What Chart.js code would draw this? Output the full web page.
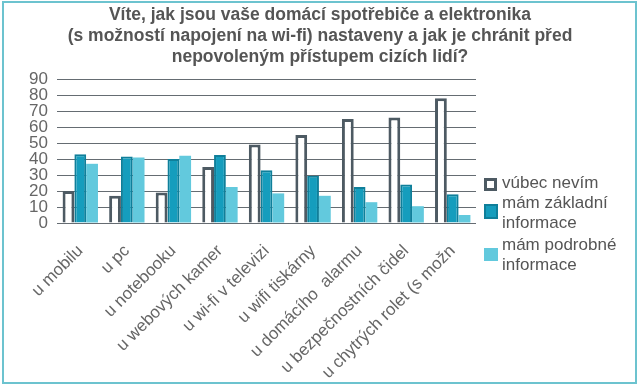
<!DOCTYPE html>
<html>
<head>
<meta charset="utf-8">
<script src="https://cdn.jsdelivr.net/npm/chart.js@4/dist/chart.umd.min.js"></script>
<style>
  html, body { margin: 0; padding: 0; background: #fff; }
  #wrap { position: relative; width: 640px; height: 387px; }
  #frame { position: absolute; left: 2px; top: 1px; width: 631px; height: 379px; border: 2px solid #6cc3cf; pointer-events: none; }
  canvas { position: absolute; left: 0; top: 0; }
</style>
</head>
<body>
<div id="wrap">
  <canvas id="c" width="640" height="387"></canvas>
  <div id="frame"></div>
</div>
<script>
const categories = [
  "u mobilu", "u pc", "u notebooku", "u webových kamer", "u wi-fi v televizi",
  "u wifi tiskárny", "u domácího  alarmu", "u bezpečnostních čidel", "u chytrých rolet (s možn"
];
const seriesNames = [["vúbec nevím"], ["mám základní", "informace"], ["mám podrobné", "informace"]];
const vubecNevim = [20, 17, 19, 35, 49, 55, 65, 66, 78];
const zakladni   = [43, 41.5, 40, 42.5, 33, 29.5, 22.5, 24, 18];
const podrobne   = [37, 41, 42, 22.5, 18.5, 17, 13, 10.5, 5];
const yTicks = [0, 10, 20, 30, 40, 50, 60, 70, 80, 90];

const colors = [
  { bg: "#ffffff", border: "#4d5a63", bw: 3 },
  { bg: "#159dbd", border: "#0f7f9a", bw: 2 },
  { bg: "#62c9dd", border: "#62c9dd", bw: 0 }
];
const values = [vubecNevim, zakladni, podrobne];

const legendPlugin = {
  id: "customLegend",
  afterDraw(chart) {
    const ctx = chart.ctx;
    ctx.save();
    ctx.font = "17px 'Liberation Sans', Arial, sans-serif";
    ctx.textBaseline = "middle";
    ctx.textAlign = "left";
    const items = [
      { box: [484, 178, 13, 13], lines: [[502, 183]] },
      { box: [484, 204, 14, 15], lines: [[502, 203], [502, 223]] },
      { box: [484, 248, 14, 13], lines: [[502, 245], [502, 265]] }
    ];
    items.forEach((it, i) => {
      const c = colors[i];
      const [x, y, w, h] = it.box;
      ctx.fillStyle = c.bg;
      ctx.fillRect(x, y, w, h);
      if (c.bw) {
        ctx.lineWidth = c.bw;
        ctx.strokeStyle = c.border;
        ctx.strokeRect(x + c.bw / 2, y + c.bw / 2, w - c.bw, h - c.bw);
      }
      ctx.fillStyle = "#555";
      seriesNames[i].forEach((t, j) => {
        ctx.fillText(t, it.lines[j][0], it.lines[j][1]);
      });
    });
    ctx.restore();
  }
};

new Chart(document.getElementById("c"), {
  type: "bar",
  data: {
    labels: categories,
    datasets: values.map((v, i) => ({
      label: seriesNames[i].join(" "),
      data: v,
      backgroundColor: colors[i].bg,
      borderColor: colors[i].border,
      borderWidth: colors[i].bw,
      borderSkipped: "bottom",
      categoryPercentage: 0.76,
      barPercentage: 1.0,
      yAxisID: "y"
    }))
  },
  options: {
    responsive: false,
    animation: false,
    layout: { padding: 0 },
    plugins: {
      legend: { display: false },
      tooltip: { enabled: false },
      title: {
        display: true,
        text: [
          "Víte, jak jsou vaše domácí spotřebiče a elektronika",
          "(s možností napojení na wi-fi) nastaveny a jak je chránit před",
          "nepovoleným přístupem cizích lidí?"
        ],
        color: "#555",
        font: { family: "'Liberation Sans', Arial, sans-serif", size: 17.5, weight: "bold", lineHeight: 1.2 },
        padding: { top: 5, bottom: 11 },
        align: "center",
        fullSize: true
      }
    },
    scales: {
      y: {
        min: 0, max: 90,
        afterBuildTicks(scale) { scale.ticks = yTicks.map(v => ({ value: v })); },
        ticks: {
          color: "#666",
          font: { family: "'Liberation Sans', Arial, sans-serif", size: 17, lineHeight: 0.9 },
          padding: 9,
          autoSkip: false,
          stepSize: 10
        },
        grid: { color: "#656c72", lineWidth: 1, drawTicks: false },
        border: { display: false },
        afterFit(scale) { scale.width = 57; }
      },
      spacer: {
        type: "linear",
        display: true,
        position: "right",
        grid: { display: false, drawTicks: false },
        border: { display: false },
        ticks: { display: false },
        afterFit(scale) { scale.width = 164; }
      },
      x: {
        ticks: {
          color: "#666",
          font: { family: "'Liberation Sans', Arial, sans-serif", size: 17 },
          maxRotation: 45, minRotation: 45,
          autoSkip: false,
          padding: 10
        },
        grid: { display: false },
        border: { display: false },
        afterFit(scale) { scale.height = 164; }
      }
    }
  },
  plugins: [legendPlugin]
});
</script>
</body>
</html>
